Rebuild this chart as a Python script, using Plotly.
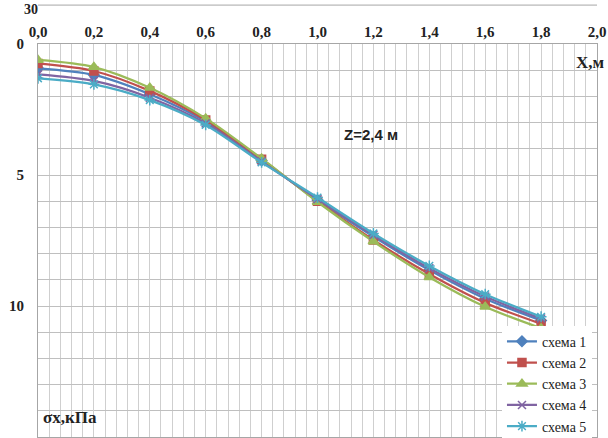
import plotly.graph_objects as go

x_m = [0.0, 0.2, 0.4, 0.6, 0.8, 1.0, 1.2, 1.4, 1.6, 1.8]
scheme1 = [0.93, 1.18, 1.92, 2.96, 4.45, 5.95, 7.35, 8.63, 9.72, 10.55]
scheme2 = [0.74, 1.03, 1.79, 2.90, 4.40, 6.00, 7.48, 8.78, 9.88, 10.68]
scheme3 = [0.61, 0.88, 1.67, 2.84, 4.37, 6.03, 7.54, 8.90, 10.03, 10.85]
scheme4 = [1.16, 1.41, 2.05, 3.03, 4.48, 5.92, 7.29, 8.56, 9.64, 10.48]
scheme5 = [1.31, 1.54, 2.14, 3.09, 4.52, 5.86, 7.23, 8.47, 9.55, 10.41]
names = ["схема 1", "схема 2", "схема 3", "схема 4", "схема 5"]
x_ticks = [0.0, 0.2, 0.4, 0.6, 0.8, 1.0, 1.2, 1.4, 1.6, 1.8, 2.0]
x_ticklabels = ["0,0", "0,2", "0,4", "0,6", "0,8", "1,0", "1,2", "1,4", "1,6", "1,8", "2,0"]
y_ticks = [0, 5, 10, 15]

series = [scheme1, scheme2, scheme3, scheme4, scheme5]
colors = ["#4F81BD", "#C0504D", "#9BBB59", "#8064A2", "#4BACC6"]
symbols = ["diamond", "square", "triangle-up", "x-thin-open", "asterisk-open"]
msizes = [8, 8, 9, 8, 9]

fig = go.Figure()
for name, ys, c, s, ms in zip(names, series, colors, symbols, msizes):
    fig.add_trace(go.Scatter(
        x=x_m, y=ys, name=name, mode="lines+markers",
        line=dict(color=c, width=2.25, shape="spline", smoothing=0.8),
        marker=dict(symbol=s, size=ms, color=c, line=dict(color=c, width=1.5)),
    ))

serif = "Liberation Serif, Times New Roman, serif"
grid = "#cfcfcf"

fig.update_layout(
    width=608, height=438,
    margin=dict(l=38, r=11, t=44, b=1, autoexpand=False),
    paper_bgcolor="white", plot_bgcolor="white",
    showlegend=True,
    legend=dict(
        x=0.83, y=-0.012, xanchor="left", yanchor="bottom",
        bgcolor="white", borderwidth=0,
        font=dict(family=serif, size=14, color="#222"),
        itemwidth=30, tracegroupgap=0,
    ),
    xaxis=dict(
        side="top", range=[0, 2.0], automargin=False,
        tickvals=x_ticks, ticktext=x_ticklabels,
        tickfont=dict(family=serif, size=15, color="#222", weight="bold"),
        showgrid=True, gridcolor=grid, gridwidth=1,
        minor=dict(dtick=0.04, tick0=0, showgrid=True, gridcolor=grid, gridwidth=1),
        showline=True, linecolor="#a6a6a6", mirror=True,
        ticks="", zeroline=False,
    ),
    yaxis=dict(
        range=[15, 0], automargin=False,
        tickvals=y_ticks,
        tickfont=dict(family=serif, size=15, color="#222", weight="bold"),
        showgrid=True, gridcolor="#bfbfbf", gridwidth=1,
        minor=dict(dtick=1, tick0=0, showgrid=True, gridcolor="#bfbfbf", gridwidth=1),
        showline=True, linecolor="#a6a6a6", mirror=True,
        ticks="", zeroline=False, ticklabelstandoff=10,
    ),
    annotations=[
        dict(text="X,м", x=1.975, y=0.69, xref="x", yref="y", showarrow=False,
             font=dict(family=serif, size=17, color="#222", weight="bold")),
        dict(text="Z=2,4 м", x=1.19, y=3.47, xref="x", yref="y", showarrow=False,
             font=dict(family="Liberation Sans, Arial, sans-serif", size=15, color="#222", weight="bold")),
        dict(text="σx,кПа", x=0.01, y=14.27, xref="x", yref="y", showarrow=False,
             xanchor="left",
             font=dict(family=serif, size=17, color="#222", weight="bold")),
        dict(text="30", x=-0.028, y=1.112, xref="paper", yref="paper", showarrow=False,
             font=dict(family=serif, size=14, color="#222", weight="bold")),
    ],
    shapes=[
        dict(type="line", xref="paper", yref="paper", x0=0, x1=1, y0=1.099, y1=1.099,
             line=dict(color="#a6a6a6", width=1)),
    ],
)

fig.write_html("out.html", config={"displayModeBar": False},
               post_script="document.body.style.margin='0px';document.body.style.overflow='hidden';")
